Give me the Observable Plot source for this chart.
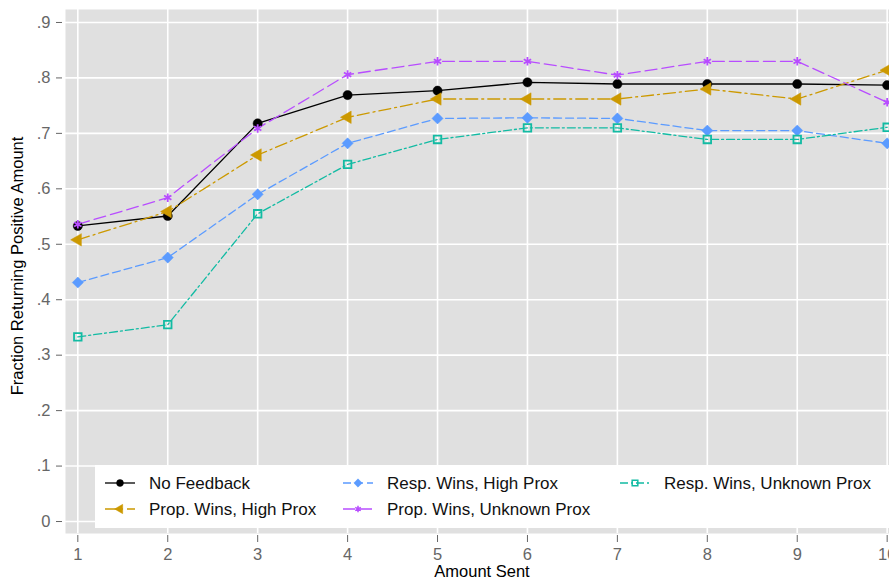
<!DOCTYPE html>
<html>
<head>
<meta charset="utf-8">
<script src="https://cdn.jsdelivr.net/npm/d3@7"></script>
<script src="https://cdn.jsdelivr.net/npm/@observablehq/plot@0.6"></script>
<style>
  html, body { margin: 0; padding: 0; background: #fff; }
  #chart { width: 889px; height: 579px; overflow: hidden; }
  svg { font-family: "Liberation Sans", Arial, sans-serif; }
</style>
</head>
<body>
<div id="chart"></div>
<script>
const amounts = [1, 2, 3, 4, 5, 6, 7, 8, 9, 10];
const yTicks = [0, 0.1, 0.2, 0.3, 0.4, 0.5, 0.6, 0.7, 0.8, 0.9];
const seriesNames = [
  "No Feedback",
  "Prop. Wins, High Prox",
  "Resp. Wins, High Prox",
  "Prop. Wins, Unknown Prox",
  "Resp. Wins, Unknown Prox"
];
const noFeedback  = [0.533, 0.551, 0.718, 0.769, 0.777, 0.792, 0.789, 0.789, 0.789, 0.787];
const propHigh    = [0.508, 0.559, 0.661, 0.729, 0.762, 0.762, 0.762, 0.780, 0.762, 0.814];
const respHigh    = [0.431, 0.476, 0.590, 0.682, 0.727, 0.728, 0.727, 0.705, 0.705, 0.682];
const propUnknown = [0.536, 0.584, 0.709, 0.806, 0.830, 0.830, 0.805, 0.830, 0.830, 0.756];
const respUnknown = [0.333, 0.355, 0.555, 0.644, 0.689, 0.710, 0.710, 0.689, 0.689, 0.711];
const seriesValues = [noFeedback, propHigh, respHigh, propUnknown, respUnknown];

// styles (not data)
const styles = {
  "No Feedback":              {color: "#000000", dash: null,        symbol: "circle",   r: 4.6, filled: true,  rotate: 0},
  "Prop. Wins, High Prox":    {color: "#cc9900", dash: "12,4,2,4",  symbol: "triangle", r: 4.6, filled: true,  rotate: -90},
  "Resp. Wins, High Prox":    {color: "#5b9bff", dash: "8,4",       symbol: "diamond2", r: 5.0, filled: true,  rotate: 0},
  "Prop. Wins, Unknown Prox": {color: "#b84dff", dash: "12,5",      symbol: "asterisk", r: 4.0, filled: false, rotate: 0},
  "Resp. Wins, Unknown Prox": {color: "#12bba3", dash: "8,3,2,3",   symbol: "square2",  r: 4.8, filled: false, rotate: 0}
};

const rows = [];
seriesNames.forEach((name, i) => amounts.forEach((a, j) => rows.push({series: name, amount: a, value: seriesValues[i][j]})));

const fmtY = d => d === 0 ? "0" : d3.format(".1f")(d).replace(/^0/, "");

const lineMarks = [];
const dotMarks = [];
for (const name of seriesNames) {
  const s = styles[name];
  const data = rows.filter(r => r.series === name);
  lineMarks.push(Plot.line(data, {x: "amount", y: "value", stroke: s.color, strokeWidth: 1.3, strokeDasharray: s.dash || undefined}));
  dotMarks.push(Plot.dot(data, {
    x: "amount", y: "value", symbol: () => s.symbol, r: s.r, rotate: s.rotate,
    fill: s.filled ? s.color : "none",
    stroke: s.color, strokeWidth: s.filled ? 0.5 : 1.8
  }));
}

const plot = Plot.plot({
  width: 889,
  height: 579,
  marginLeft: 65,
  marginRight: 0,
  marginTop: 9,
  marginBottom: 46,
  style: {background: "#fff", fontFamily: "'Liberation Sans', Arial, sans-serif"},
  x: {domain: [0.863, 10.026], label: null},
  y: {domain: [-0.0216, 0.9234], label: null},
  symbol: {type: "identity"},
  marks: [
    Plot.frame({fill: "#e0e0e0", stroke: "none"}),
    Plot.gridX(amounts, {stroke: "#ffffff", strokeOpacity: 1, strokeWidth: 1.6}),
    Plot.gridY(yTicks, {stroke: "#ffffff", strokeOpacity: 1, strokeWidth: 1.6}),
    Plot.axisY(yTicks, {tickSize: 6, dx: -3, tickPadding: 6, tickFormat: fmtY, fontSize: 16.5, color: "#666666", label: null}),
    Plot.axisX(amounts, {tickSize: 7, dy: 2, tickPadding: 6, tickFormat: d => String(d), fontSize: 16.5, color: "#666666", label: null}),
    ...lineMarks,
    ...dotMarks
  ]
});

document.getElementById("chart").appendChild(plot);

// axis titles and legend
const svg = d3.select(plot);
svg.append("text")
  .attr("transform", "translate(23,266) rotate(-90)")
  .attr("text-anchor", "middle")
  .attr("font-size", 16.5)
  .attr("fill", "#000")
  .text("Fraction Returning Positive Amount");
svg.append("text")
  .attr("x", 482).attr("y", 577)
  .attr("text-anchor", "middle")
  .attr("font-size", 16.5)
  .attr("fill", "#000")
  .text("Amount Sent");

const legend = svg.append("g").attr("text-anchor", "start");
legend.append("rect").attr("x", 95).attr("y", 465).attr("width", 800).attr("height", 63).attr("fill", "#fff");
const legendPos = [
  [105, 483], [105, 509], [343, 483], [343, 509], [620, 483]
];
const legendOrder = ["No Feedback", "Prop. Wins, High Prox", "Resp. Wins, High Prox", "Prop. Wins, Unknown Prox", "Resp. Wins, Unknown Prox"];
const symMap = {circle: d3.symbolCircle, triangle: d3.symbolTriangle, diamond2: d3.symbolDiamond2, asterisk: d3.symbolAsterisk, square2: d3.symbolSquare2};
legendOrder.forEach((name, i) => {
  const s = styles[name];
  const [x0, y0] = legendPos[i];
  const g = legend.append("g");
  g.append("line").attr("x1", x0).attr("x2", x0 + 30).attr("y1", y0).attr("y2", y0)
    .attr("stroke", s.color).attr("stroke-width", 1.3).attr("stroke-dasharray", s.dash);
  const lr = s.r * 0.75;
  g.append("path")
    .attr("d", d3.symbol(symMap[s.symbol], Math.PI * lr * lr)())
    .attr("transform", `translate(${x0 + 15},${y0}) rotate(${s.rotate})`)
    .attr("fill", s.filled ? s.color : "none")
    .attr("stroke", s.color).attr("stroke-width", s.filled ? 0.5 : 1.5);
  g.append("text").attr("x", x0 + 44).attr("y", y0).attr("dy", "0.36em")
    .attr("text-anchor", "start")
    .attr("font-size", 17).attr("fill", "#111").text(name);
});
</script>
</body>
</html>
